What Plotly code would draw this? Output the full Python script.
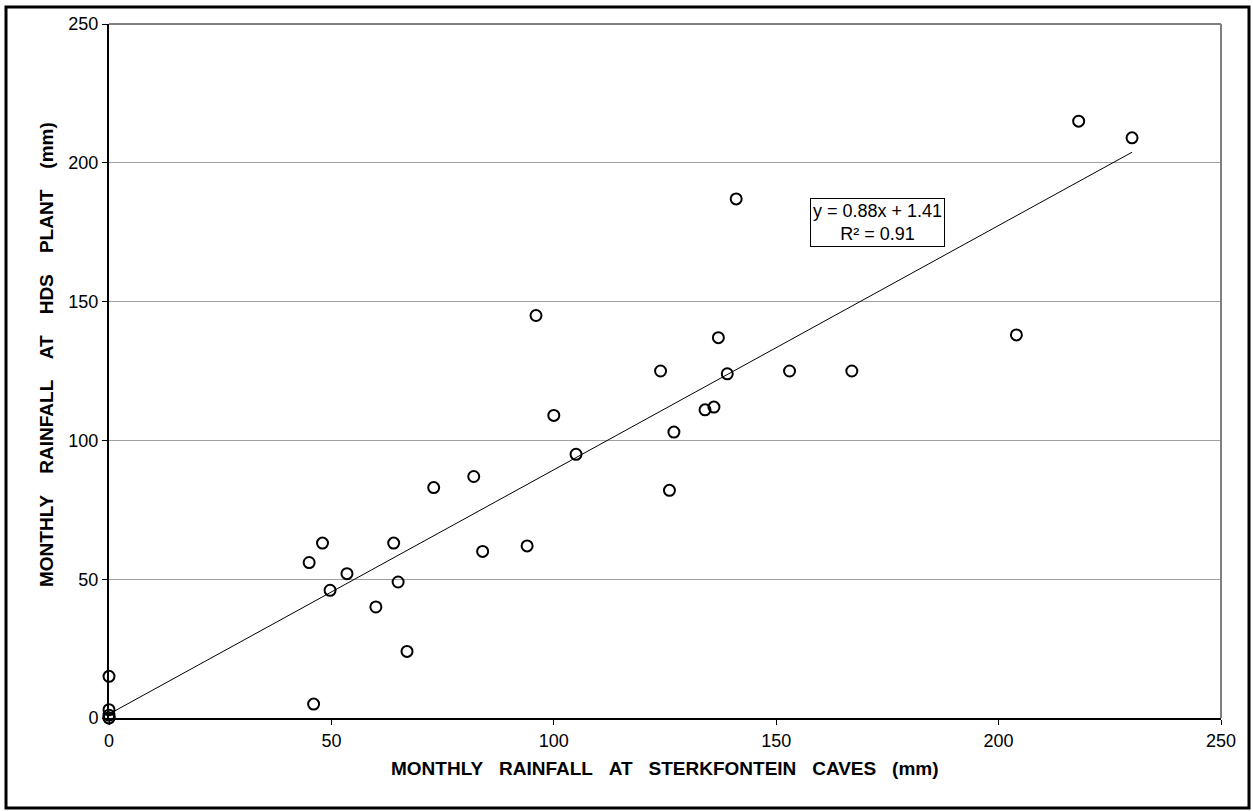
import plotly.graph_objects as go

# Monthly rainfall (mm): Sterkfontein Caves (x) vs HDS plant (y)
sterkfontein_mm = [0, 0, 0, 0, 0, 46, 45, 48, 53.5, 49.7, 60, 64, 65, 67, 73, 82, 84,
                   94, 96, 100, 105, 124, 126, 127, 134, 136, 137, 139, 141, 153, 167,
                   204, 218, 230]
hds_plant_mm = [15, 3, 1, 0, 0, 5, 56, 63, 52, 46, 40, 63, 49, 24, 83, 87, 60,
                62, 145, 109, 95, 125, 82, 103, 111, 112, 137, 124, 187, 125, 125,
                138, 215, 209]

# Linear trend line reported on the chart
slope = 0.88
intercept = 1.41
r_squared = 0.91

axis_ticks = [0, 50, 100, 150, 200, 250]

FONT = "Liberation Sans, Arial, sans-serif"
X_GAP = "\u00a0 \u00a0"          # word spacing in the x-axis title
Y_GAP = "\u00a0 \u00a0 "         # slightly wider spacing in the y-axis title

x_line = [0, max(sterkfontein_mm)]
y_line = [slope * v + intercept for v in x_line]

fig = go.Figure()
fig.add_trace(go.Scatter(
    x=x_line, y=y_line, mode="lines",
    line=dict(color="black", width=1), hoverinfo="skip", showlegend=False,
))
fig.add_trace(go.Scatter(
    x=sterkfontein_mm, y=hds_plant_mm, mode="markers", cliponaxis=False,
    marker=dict(symbol="circle-open", size=11, color="black",
                line=dict(color="black", width=2)),
    showlegend=False,
))

W, H = 1253, 811
ml, mr, mt, mb = 109, 32, 24, 93
pw, ph = W - ml - mr, H - mt - mb


def px_x(p):
    return (p - ml) / pw


def px_y(p):
    return (H - mb - p) / ph


shapes = [
    # outer chart border
    dict(type="rect", xref="paper", yref="paper",
         x0=px_x(6), x1=px_x(1249), y0=px_y(808), y1=px_y(7),
         line=dict(color="black", width=3)),
    # plot area frame: top and right edges
    dict(type="line", xref="paper", yref="paper", x0=0, x1=1, y0=1, y1=1,
         line=dict(color="black", width=1)),
    dict(type="line", xref="paper", yref="paper", x0=1, x1=1, y0=0, y1=1,
         line=dict(color="#808080", width=2)),
]

x_title = X_GAP.join(["MONTHLY", "RAINFALL", "AT", "STERKFONTEIN", "CAVES", "(mm)"])
y_title = Y_GAP.join(["MONTHLY", "RAINFALL", "AT", "HDS", "PLANT", "(mm)"])

annotations = [
    dict(x=172.8, y=178.5, xref="x", yref="y",
         text=f"y = {slope:.2f}x + {intercept:.2f}<br>R² = {r_squared:.2f}",
         showarrow=False, align="center",
         font=dict(family=FONT, size=18, color="black"),
         bgcolor="white", bordercolor="black", borderwidth=1, borderpad=2),
    dict(x=0.5, y=px_y(768), xref="paper", yref="paper",
         text=f"<b>{x_title}</b>",
         showarrow=False, font=dict(family=FONT, size=19, color="black"),
         xanchor="center", yanchor="middle"),
    dict(x=px_x(46), y=px_y(355), xref="paper", yref="paper",
         text=f"<b>{y_title}</b>",
         textangle=-90, showarrow=False,
         font=dict(family=FONT, size=19, color="black"),
         xanchor="center", yanchor="middle"),
]

fig.update_layout(
    width=W, height=H,
    margin=dict(l=ml, r=mr, t=mt, b=mb),
    paper_bgcolor="white", plot_bgcolor="white",
    font=dict(family=FONT, size=18, color="black"),
    shapes=shapes, annotations=annotations,
    xaxis=dict(range=[0, 250], tickvals=axis_ticks, showgrid=False, zeroline=False,
               showline=True, linecolor="black", linewidth=2,
               ticks="outside", ticklen=5, tickcolor="black", tickwidth=1,
               tickfont=dict(size=18)),
    yaxis=dict(range=[0, 250], tickvals=axis_ticks, showgrid=True,
               gridcolor="#a0a0a0", gridwidth=1, zeroline=False,
               showline=True, linecolor="black", linewidth=2,
               ticks="outside", ticklen=5, tickcolor="black", tickwidth=1,
               tickfont=dict(size=18)),
)

fig.write_html("out.html")
